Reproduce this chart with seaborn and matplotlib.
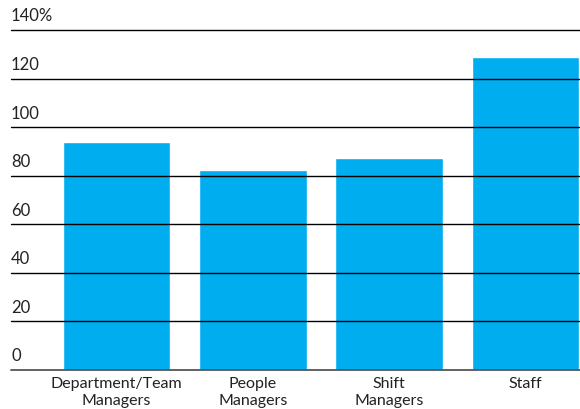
import matplotlib
matplotlib.use("Agg")
import matplotlib.pyplot as plt
import matplotlib.transforms as mtransforms
import seaborn as sns
import pandas as pd

categories = ["Department/Team\nManagers", "People\nManagers", "Shift\nManagers", "Staff"]
values = [93.8, 82.5, 87.1, 128.8]
y_ticks = [0, 20, 40, 60, 80, 100, 120, 140]
y_labels = ["0", "20", "40", "60", "80", "100", "120", "140%"]

sns.set_theme(style="white")
plt.rcParams["font.family"] = ["Lato", "DejaVu Sans"]

df = pd.DataFrame({"group": categories, "value": values})

fig = plt.figure(figsize=(5.8, 4.09), dpi=100)
ax = fig.add_axes([11 / 580, 39 / 409, 569 / 580, 340 / 409])

sns.barplot(data=df, x="group", y="value", color="#00AEEF", saturation=1,
            width=0.79, ax=ax, zorder=1)

ax.set_xlim(-0.775, 3.4)
ax.set_ylim(0, 140)

# horizontal rules drawn over the bars
for t in y_ticks:
    col = "#555555" if t == 0 else "black"
    ax.axhline(t, color=col, lw=1.3 if t == 0 else 1.0, zorder=3, clip_on=False)

# value labels sitting above each rule at the left edge
trans = mtransforms.blended_transform_factory(ax.transAxes, ax.transData)
offset = mtransforms.ScaledTranslation(0, 4 / 72, fig.dpi_scale_trans)
for t, lab in zip(y_ticks, y_labels):
    ax.text(0, t, lab, transform=trans + offset, ha="left", va="bottom",
            fontsize=12, color="#222222")

ax.set_yticks([])
ax.set_xlabel("")
ax.set_ylabel("")
ax.tick_params(axis="x", length=0, pad=5, labelsize=11.5, labelcolor="#222222")
for lab in ax.get_xticklabels():
    lab.set_linespacing(1.3)
for s in ax.spines.values():
    s.set_visible(False)

fig.savefig("out.png", dpi=100)
